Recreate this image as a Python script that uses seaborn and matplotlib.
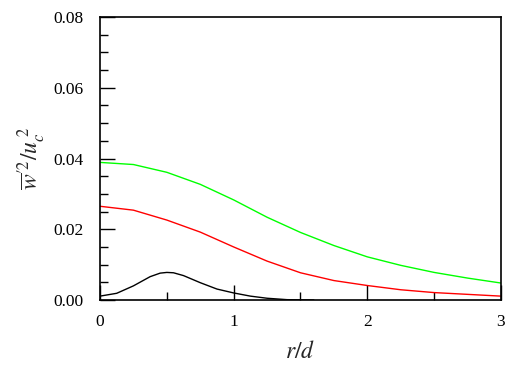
import numpy as np
import pandas as pd
import matplotlib
matplotlib.use("Agg")
import matplotlib.pyplot as plt
import seaborn as sns
from matplotlib.ticker import MultipleLocator, FormatStrFormatter

# values
r_green = [0.0, 0.25, 0.5, 0.75, 1.0, 1.25, 1.5, 1.75, 2.0, 2.25, 2.5, 2.75, 3.0]
w_green = [0.0389, 0.0383, 0.0361, 0.0327, 0.0283, 0.0234, 0.0191, 0.0154, 0.0122, 0.0098, 0.0078, 0.0062, 0.0048]

r_red = [0.0, 0.25, 0.5, 0.75, 1.0, 1.25, 1.5, 1.75, 2.0, 2.25, 2.5, 2.75, 3.0]
w_red = [0.0265, 0.0254, 0.0226, 0.0192, 0.0150, 0.0110, 0.0077, 0.0055, 0.0041, 0.0029, 0.0021, 0.0016, 0.0011]

r_black = [0.0, 0.125, 0.25, 0.375, 0.45, 0.5, 0.55, 0.625, 0.75, 0.875, 1.0, 1.125, 1.25, 1.4, 1.6]
w_black = [0.0011, 0.0019, 0.0040, 0.0066, 0.0076, 0.0078, 0.0077, 0.0069, 0.0049, 0.0031, 0.0020, 0.0011, 0.0005, 0.0001, 0.0]

sns.set_style("white")
plt.rcParams['font.family'] = ['Liberation Serif', 'DejaVu Serif']
plt.rcParams['mathtext.fontset'] = 'stix'

fig = plt.figure(figsize=(5.11, 3.72), dpi=100)
ax = fig.add_axes([0.1957, 0.1935, 0.7847, 0.7608])

# green, red, black profiles
for rs, ws, col in [(r_green, w_green, '#00ff00'), (r_red, w_red, '#ff0000'), (r_black, w_black, 'black')]:
    df = pd.DataFrame({'r': rs, 'w': ws})
    sns.lineplot(data=df, x='r', y='w', color=col, linewidth=1.0, ax=ax)

ax.set_xlim(0, 3)
ax.set_ylim(0, 0.08)
ax.xaxis.set_major_locator(MultipleLocator(1))
ax.xaxis.set_minor_locator(MultipleLocator(0.5))
ax.yaxis.set_major_locator(MultipleLocator(0.02))
ax.yaxis.set_minor_locator(MultipleLocator(0.005))
ax.yaxis.set_major_formatter(FormatStrFormatter('%.2f'))

ax.tick_params(which='both', direction='in', bottom=True, left=True, top=False, right=False,
               labelsize=12.5, width=1.0, colors='black')
ax.tick_params(which='major', length=11)
ax.tick_params(which='minor', length=6)
ax.tick_params(axis='x', which='major', pad=10)
ax.tick_params(axis='y', which='major', pad=12)

for s in ax.spines.values():
    s.set_color('black')
    s.set_linewidth(1.2)

ax.set_xlabel(r'$r/d$', fontsize=17, labelpad=8)
ax.set_ylabel(r'$\overline{w}^{\prime 2}/u_c^{\;2}$', fontsize=17, labelpad=4)

fig.savefig('out.png', dpi=100)
